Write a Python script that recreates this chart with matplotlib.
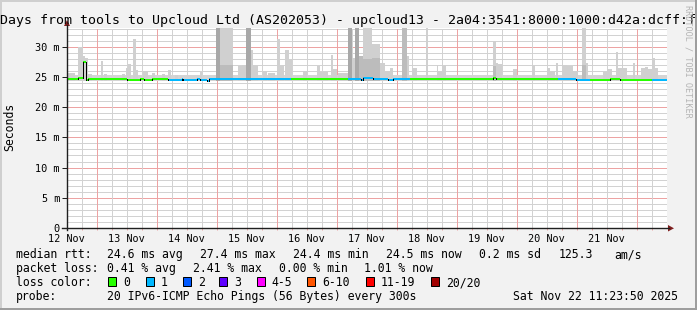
import matplotlib
matplotlib.use("Agg")
import matplotlib.pyplot as plt
from matplotlib.patches import Rectangle, Polygon
from matplotlib.lines import Line2D

plt.rcParams['font.family'] = 'DejaVu Sans Mono'
plt.rcParams['lines.scale_dashes'] = False

W, H, DPI = 697, 310, 100

# time axis in hours since 12 Nov 00:00
t_start = 12.12
t_end = 252.12
y_max = 33.1

day_labels = ["12 Nov", "13 Nov", "14 Nov", "15 Nov", "16 Nov",
              "17 Nov", "18 Nov", "19 Nov", "20 Nov", "21 Nov"]
day_label_hours = [12, 36, 60, 84, 108, 132, 156, 180, 204, 228]

y_ticks = [0, 5, 10, 15, 20, 25, 30]
y_tick_labels = ["0", "5 m", "10 m", "15 m", "20 m", "25 m", "30 m"]

# median rtt: (start h, end h, ms, lost pings)
median_segments = [
    (12.1, 16.5, 24.7, 0), (16.5, 18.5, 24.9, 0), (18.5, 19.7, 27.4, 0),
    (19.7, 20.5, 24.5, 0), (20.5, 34.9, 24.6, 0), (34.9, 36.1, 24.7, 0),
    (36.1, 41.3, 24.5, 0), (41.3, 42.1, 24.6, 0), (42.1, 42.9, 24.7, 0),
    (42.9, 46.1, 24.5, 0), (46.1, 46.9, 24.7, 0), (46.9, 52.5, 24.6, 0),
    (52.5, 58.1, 24.55, 1), (58.1, 58.6, 24.65, 1), (58.6, 64.1, 24.5, 1),
    (64.1, 65.3, 24.6, 1), (65.3, 68.1, 24.5, 1), (68.1, 68.9, 24.35, 1),
    (68.9, 101.7, 24.6, 1), (101.7, 124.5, 24.6, 0), (124.5, 129.7, 24.6, 1),
    (129.7, 130.4, 24.45, 1), (130.4, 134.4, 24.75, 1), (134.4, 136.4, 24.6, 1),
    (136.4, 140.5, 24.65, 1), (140.5, 142.5, 24.5, 1), (142.5, 149.3, 24.6, 1),
    (149.3, 182.4, 24.65, 0), (182.4, 183.7, 24.8, 0), (183.7, 208.5, 24.65, 0),
    (208.5, 215.7, 24.6, 1), (215.7, 221.3, 24.45, 1), (221.3, 229.3, 24.45, 0),
    (229.3, 233.3, 24.6, 0), (233.3, 236.9, 24.45, 0), (236.9, 241.7, 24.55, 0),
    (241.7, 246.1, 24.45, 0), (246.1, 252.12, 24.45, 1),
]

# smoke (ping spread): (start h, end h, top ms)
smoke_floor = 24.3
smoke_base_top = 25.3
smoke_light = [
    (12.1, 15.3, 25.7), (16.5, 18.5, 30.0), (18.5, 19.3, 28.5), (19.3, 20.5, 28.1),
    (20.5, 22.1, 25.5), (25.6, 26.4, 27.7), (26.9, 28.1, 25.5), (34.0, 35.3, 25.5),
    (35.7, 36.5, 26.5), (36.5, 37.7, 27.2), (38.5, 39.7, 31.2), (39.7, 40.5, 26.2),
    (42.5, 44.5, 26.0), (46.1, 47.3, 25.7), (50.1, 51.3, 25.5), (52.5, 53.7, 26.1),
    (55.3, 56.5, 25.4), (65.3, 66.1, 25.9), (71.7, 78.5, 36.0), (80.4, 82.2, 26.8),
    (82.2, 83.7, 26.9), (83.7, 85.7, 36.0), (85.7, 86.5, 29.5), (86.5, 88.5, 26.9),
    (90.5, 92.1, 26.0), (92.5, 95.3, 25.6), (96.1, 97.3, 31.2), (97.3, 98.9, 27.0),
    (99.3, 100.9, 29.5), (100.9, 102.1, 28.0), (106.5, 108.1, 26.0), (112.1, 113.3, 26.8),
    (113.3, 116.5, 25.8), (117.6, 118.4, 28.7), (118.4, 120.1, 26.3), (120.5, 124.4, 25.6),
    (124.4, 126.0, 36.0), (126.0, 127.3, 28.1), (127.3, 129.0, 36.0), (129.0, 130.4, 28.4),
    (130.4, 134.1, 36.0), (134.1, 137.3, 30.5), (137.3, 139.3, 27.3), (139.3, 141.3, 26.0),
    (141.3, 142.5, 26.5), (146.0, 148.0, 36.0), (148.0, 148.9, 28.5), (150.0, 152.0, 26.5),
    (155.7, 156.5, 36.0), (160.0, 160.6, 26.9), (160.6, 162.0, 26.0), (162.0, 163.6, 27.0),
    (182.4, 183.7, 30.9), (183.7, 184.5, 27.3), (184.5, 186.0, 27.2), (190.5, 192.0, 26.3),
    (198.0, 199.3, 26.9), (204.0, 205.3, 26.5), (205.3, 207.3, 26.0), (207.7, 208.6, 27.3),
    (210.0, 212.2, 27.0), (212.2, 214.4, 26.8), (214.4, 216.5, 26.0), (218.0, 219.7, 36.0),
    (219.7, 220.5, 27.3), (226.5, 228.0, 25.9), (228.0, 230.0, 26.3), (231.7, 232.5, 29.2),
    (232.5, 234.0, 26.4), (234.0, 234.6, 28.1), (234.6, 236.0, 26.5), (238.6, 239.2, 27.3),
    (241.6, 243.3, 26.4), (243.3, 244.6, 26.7), (244.6, 246.0, 26.3), (246.0, 247.3, 28.1),
    (247.3, 248.6, 26.5),
]
smoke_mid = [
    (73.3, 78.5, 27.0), (129.0, 130.4, 28.4), (130.4, 134.1, 28.0), (134.1, 137.3, 28.1),
    (146.0, 148.0, 36.0), (182.4, 183.7, 26.8), (218.0, 219.7, 27.0),
]
smoke_dark = [
    (71.7, 73.3, 36.0), (83.7, 85.7, 36.0), (124.4, 126.0, 36.0), (127.3, 129.0, 36.0),
]

loss_labels = ["0", "1", "2", "3", "4-5", "6-10", "11-19", "20/20"]
loss_colors = ["#26ff00", "#00b8ff", "#0059ff", "#5e00ff",
               "#ff00ff", "#ff5500", "#ff0000", "#a10000"]

rtt_stats = ["24.6 ms avg", "27.4 ms max", "24.4 ms min", "24.5 ms now",
             "0.2 ms sd", "125.3", "am/s"]
loss_stats = ["0.41 % avg", "2.41 % max", "0.00 % min", "1.01 % now"]
probe_text = "20 IPv6-ICMP Echo Pings (56 Bytes) every 300s"
stamp_text = "Sat Nov 22 11:23:50 2025"
title = ("Days from tools to Upcloud Ltd (AS202053) - upcloud13 - "
         "2a04:3541:8000:1000:d42a:dcff:f")


def fx(px):
    return px / W


def fy(py):
    return 1 - py / H


fig = plt.figure(figsize=(W / DPI, H / DPI), dpi=DPI, facecolor='#f2f2f2')
ax = fig.add_axes([fx(67), fy(228), 600 / W, 200 / H])
ax.set_facecolor('white')
ax.set_xlim(t_start, t_end)
ax.set_ylim(0, y_max)
for s in ax.spines.values():
    s.set_visible(False)

# grid, dotted 1px on / 1px off
grid_c = '#d2d2d2'
mgrid_c = '#eda3a3'
dots = (0, (0.72, 0.72))
for v in range(1, 34):
    c = mgrid_c if v % 5 == 0 else grid_c
    ax.axhline(v, color=c, lw=0.72, ls=dots, antialiased=False, zorder=0)
for h in range(18, 252, 6):
    c = mgrid_c if h % 24 == 0 else grid_c
    ax.axvline(h, color=c, lw=0.72, ls=dots, antialiased=False, zorder=0)

# smoke
ax.fill_between([t_start, t_end], smoke_floor, smoke_base_top, color='#d4d4d4', lw=0, zorder=1)
for data, col in ((smoke_light, '#d0d0d0'), (smoke_mid, '#bcbcbc'), (smoke_dark, '#a8a8a8')):
    ax.bar([d[0] for d in data], [d[2] - smoke_floor for d in data],
           width=[d[1] - d[0] for d in data], bottom=smoke_floor,
           align='edge', color=col, linewidth=0, zorder=1)

# median line
for i, (s, e, v, loss) in enumerate(median_segments):
    ax.plot([s, e], [v, v], color=loss_colors[loss], lw=1.44,
            solid_capstyle='butt', zorder=3)
    if i > 0:
        pv = median_segments[i - 1][2]
        if pv != v:
            ax.plot([s, s], [pv, v], color='black', lw=0.72, zorder=4)

# ticks
ax.set_yticks(y_ticks)
ax.set_yticklabels(y_tick_labels)
ax.tick_params(axis='y', length=3.6, width=0.72, color='#1f1f1f', pad=1.5,
               labelsize=7.4, labelcolor='black')
ax.set_xticks(range(18, 252, 6))
ax.set_xticklabels([])
ax.tick_params(axis='x', length=1.5, width=0.72, color=mgrid_c)
for h, lab in zip(day_label_hours, day_labels):
    ax.text(h, -13.5 / 200, lab, transform=ax.get_xaxis_transform(),
            ha='center', va='baseline', fontsize=7.4)

# axes lines and arrows
fig.add_artist(Line2D([fx(62), fx(669)], [fy(228.3), fy(228.3)], color='#1f1f1f', lw=1.0))
fig.add_artist(Line2D([fx(67), fx(67)], [fy(230), fy(25)], color='#1f1f1f', lw=1.0))
fig.add_artist(Polygon([(fx(64), fy(26)), (fx(70), fy(26)), (fx(67), fy(20))],
                       closed=True, color='#801f1f', lw=0))
fig.add_artist(Polygon([(fx(668), fy(225)), (fx(668), fy(231.5)), (fx(674), fy(228.3))],
                       closed=True, color='#801f1f', lw=0))

# title, watermark, unit
fig.text(fx(0.5), fy(24), title, fontsize=9.5, ha='left', va='baseline')
fig.text(fx(688), fy(5), "RRDTOOL / TOBI OETIKER", rotation=270, ha='center',
         va='top', fontsize=6.1, color='#b4b4b4')
fig.text(fx(10), fy(127), "Seconds", rotation=90, ha='center', va='center', fontsize=8.3)

# legend
fs = 8.3
fig.text(fx(16), fy(258), "median rtt:", fontsize=fs, va='baseline')
for x, t in zip([107.3, 200, 293.3, 385.7, 479.3, 558.3, 614], rtt_stats):
    fig.text(fx(x), fy(258), t, fontsize=fs, va='baseline')
fig.text(fx(16), fy(272), "packet loss:", fontsize=fs, va='baseline')
for x, t in zip([107.3, 193, 278.7, 364.4], loss_stats):
    fig.text(fx(x), fy(272), t, fontsize=fs, va='baseline')
fig.text(fx(16), fy(286), "loss color:", fontsize=fs, va='baseline')
for x, lab, col in zip([108.3, 145.7, 182.7, 219.3, 256.7, 307.3, 365.7, 430.7],
                       loss_labels, loss_colors):
    fig.add_artist(Rectangle((fx(x), fy(286)), 8 / W, 9 / H, facecolor=col,
                             edgecolor='black', lw=0.72))
    fig.text(fx(x + 15), fy(286), lab, fontsize=fs, va='baseline')
fig.text(fx(16), fy(300), "probe:", fontsize=fs, va='baseline')
fig.text(fx(107.3), fy(300), probe_text, fontsize=fs, va='baseline')
fig.text(fx(513.3), fy(300), stamp_text, fontsize=fs, va='baseline')

# 3d border
fig.add_artist(Rectangle((0, fy(2)), 1, 2 / H, color='#cfcfcf', lw=0))
fig.add_artist(Rectangle((0, 0), 2 / W, 1, color='#cfcfcf', lw=0))
fig.add_artist(Rectangle((0, 0), 1, 2 / H, color='#9e9e9e', lw=0))
fig.add_artist(Rectangle((fx(695), 0), 2 / W, 1, color='#9e9e9e', lw=0))

fig.savefig("out.png", dpi=DPI, facecolor=fig.get_facecolor())
